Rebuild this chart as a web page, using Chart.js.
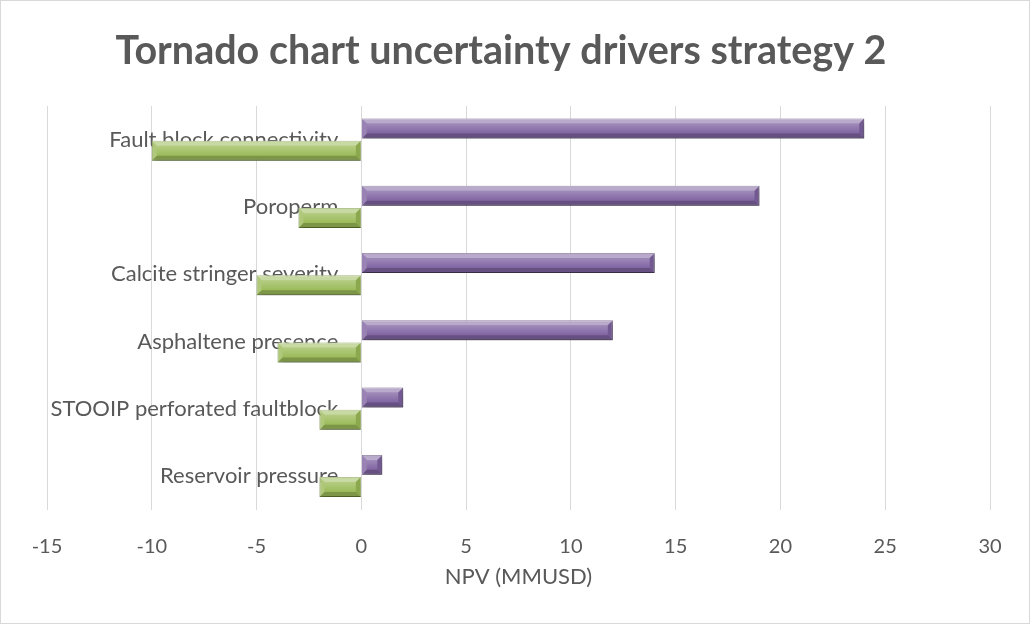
<!DOCTYPE html>
<html>
<head>
<meta charset="utf-8">
<script src="https://cdn.jsdelivr.net/npm/chart.js@4"></script>
<style>
  html, body { margin: 0; padding: 0; background: #fff; }
  #wrap { width: 1030px; height: 624px; }
</style>
</head>
<body>
<div id="wrap"><canvas id="myChart" width="1030" height="624"></canvas></div>
<script>
// uncertainty drivers, largest swing on top
var drivers = ['Fault block connectivity', 'Poroperm', 'Calcite stringer severity',
    'Asphaltene presence', 'STOOIP perforated faultblock', 'Reservoir pressure'];
var upside = [24, 19, 14, 12, 2, 1];
var downside = [-10, -3, -5, -4, -2, -2];

var axisMin = -15;
var axisMax = 30;
var axisStep = 5;

var chartTitle = 'Tornado chart uncertainty drivers strategy 2';
var textColor = '#595959';
var gridColor = '#d9d9d9';

// white background, thin frame round the whole chart and the big title
var frame = {
    id: 'frame',
    beforeDraw: function (chart) {
        var c = chart.ctx;
        c.save();
        c.fillStyle = '#fff';
        c.fillRect(0, 0, chart.width, chart.height);
        c.strokeStyle = gridColor;
        c.lineWidth = 1;
        c.strokeRect(0.5, 0.5, chart.width - 1, chart.height - 1);
        c.fillStyle = textColor;
        c.font = 'bold 39.5px Lato';
        c.textAlign = 'center';
        c.textBaseline = 'alphabetic';
        c.fillText(chartTitle, 501, 64);
        c.restore();
    }
};

// soft drop shadow under the bars, then an angled bevel on top of each one
var bevel = {
    id: 'bevel',
    beforeDatasetsDraw: function (chart) {
        var c = chart.ctx;
        c.save();
        c.shadowColor = 'rgba(0,0,0,0.3)';
        c.shadowBlur = 5;
        c.shadowOffsetX = 2;
        c.shadowOffsetY = 3;
    },
    afterDatasetsDraw: function (chart) {
        var c = chart.ctx;
        c.restore();
        chart.data.datasets.forEach(function (ds, i) {
            var meta = chart.getDatasetMeta(i);
            meta.data.forEach(function (bar) {
                var l = Math.min(bar.x, bar.base);
                var r = Math.max(bar.x, bar.base);
                var t = bar.y - bar.height / 2;
                var b = bar.y + bar.height / 2;
                var s = Math.min(5, (r - l) / 2, bar.height / 2);
                c.save();
                // top face
                c.fillStyle = 'rgba(255,255,255,0.45)';
                c.beginPath();
                c.moveTo(l, t); c.lineTo(r, t); c.lineTo(r - s, t + s); c.lineTo(l + s, t + s);
                c.closePath(); c.fill();
                // bottom face
                c.fillStyle = 'rgba(0,0,0,0.2)';
                c.beginPath();
                c.moveTo(l, b); c.lineTo(r, b); c.lineTo(r - s, b - s); c.lineTo(l + s, b - s);
                c.closePath(); c.fill();
                // right end
                c.fillStyle = 'rgba(0,0,0,0.1)';
                c.beginPath();
                c.moveTo(r, t); c.lineTo(r, b); c.lineTo(r - s, b - s); c.lineTo(r - s, t + s);
                c.closePath(); c.fill();
                // left end
                c.fillStyle = 'rgba(255,255,255,0.2)';
                c.beginPath();
                c.moveTo(l, t); c.lineTo(l, b); c.lineTo(l + s, b - s); c.lineTo(l + s, t + s);
                c.closePath(); c.fill();
                // face gradient
                var g = c.createLinearGradient(0, t + s, 0, b - s);
                g.addColorStop(0, 'rgba(255,255,255,0.25)');
                g.addColorStop(1, 'rgba(255,255,255,0)');
                c.fillStyle = g;
                c.fillRect(l + s, t + s, r - l - 2 * s, b - t - 2 * s);
                c.restore();
            });
        });
    }
};

var ctx = document.getElementById('myChart').getContext('2d');

var chart = new Chart(ctx, {
    type: 'bar',
    data: {
        labels: drivers,
        datasets: [{
            label: 'Upside',
            data: upside,
            backgroundColor: '#8064a2',
            borderColor: '#5e4a78',
            borderWidth: 1
        }, {
            label: 'Downside',
            data: downside,
            backgroundColor: '#9bbb59',
            borderColor: '#7a9a3e',
            borderWidth: 1
        }]
    },
    plugins: [frame, bevel],
    options: {
        indexAxis: 'y',
        responsive: false,
        animation: false,
        categoryPercentage: 0.66,
        barPercentage: 0.9,
        layout: {
            padding: { left: 47, right: 40, top: 106, bottom: 30 }
        },
        plugins: {
            legend: { display: false },
            tooltip: { enabled: false },
            title: { display: false }
        },
        scales: {
            x: {
                min: axisMin,
                max: axisMax,
                ticks: {
                    stepSize: axisStep,
                    color: textColor,
                    font: { family: 'Lato', size: 20 },
                    padding: 0
                },
                // invisible tick marks just push the labels down
                grid: { color: gridColor, drawTicks: true, tickLength: 25, tickColor: 'transparent' },
                border: { display: false },
                title: {
                    display: true,
                    text: 'NPV (MMUSD)',
                    color: textColor,
                    font: { family: 'Lato', size: 22 },
                    padding: { top: 5, bottom: 4 }
                }
            },
            y: {
                // labels sit just left of the zero line
                position: { x: -1.1 },
                z: 1,
                ticks: {
                    color: textColor,
                    font: { family: 'Lato', size: 22 }
                },
                grid: { display: false },
                border: { display: false }
            }
        }
    }
});
</script>
</body>
</html>
